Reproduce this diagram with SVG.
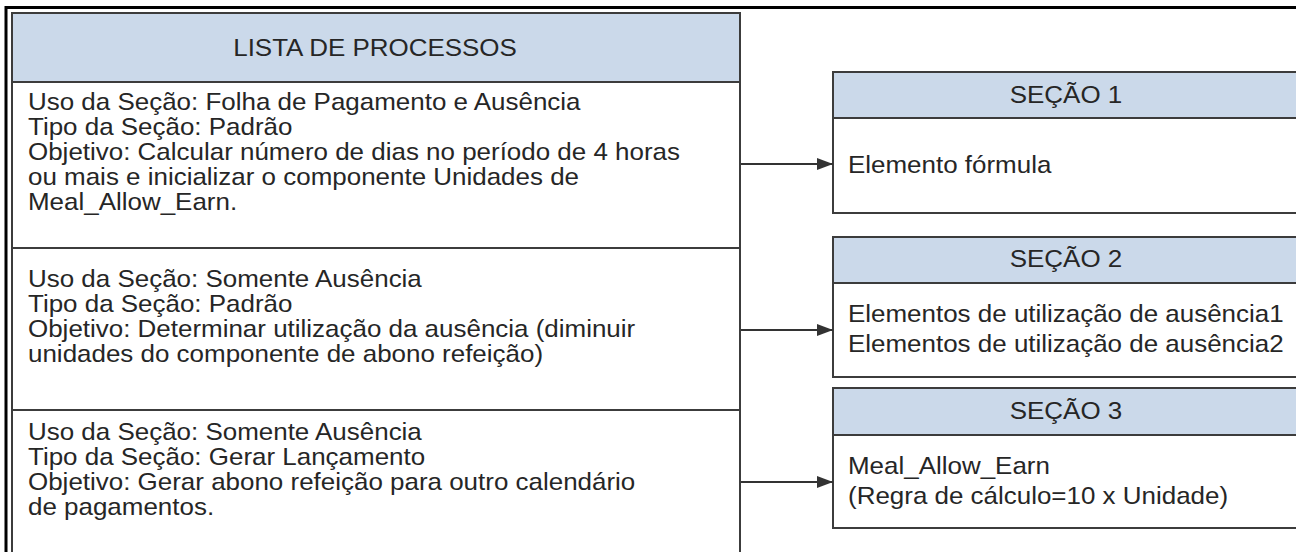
<svg xmlns="http://www.w3.org/2000/svg" width="1296" height="552" viewBox="0 0 1296 552">
  <defs>
    <style>
      .frame { fill: none; stroke: #000; stroke-width: 3; }
      .box { fill: #fff; stroke: #3c3c3c; stroke-width: 2; }
      .hdr { fill: #cbd9ea; stroke: #3c3c3c; stroke-width: 2; }
      .div { stroke: #3c3c3c; stroke-width: 2; }
      .t { font-family: "Liberation Sans", Arial, sans-serif; font-size: 23.6px; fill: #262626; }
      .c { text-anchor: middle; }
      .conn { stroke: #333; stroke-width: 2; fill: none; marker-end: url(#arr); }
    </style>
    <marker id="arr" viewBox="0 0 16 12" refX="16" refY="6" markerWidth="16" markerHeight="12" markerUnits="userSpaceOnUse" orient="auto">
      <path d="M0,0 L16,6 L0,12 z" fill="#333"/>
    </marker>
  </defs>
  <rect width="1296" height="552" fill="#fff"/>
  <path class="frame" d="M6,552 V7.5 H1296"/>

  <g id="lista">
    <rect class="box" x="12" y="13" width="728" height="540"/>
    <rect class="hdr" x="12" y="13" width="728" height="69"/>
    <text class="t c" transform="translate(375,56) scale(1.1,1)">LISTA DE PROCESSOS</text>
    <line class="div" x1="12" y1="248" x2="740" y2="248"/>
    <line class="div" x1="12" y1="410" x2="740" y2="410"/>
    <text class="t" transform="translate(28,110) scale(1.1,1)">Uso da Seção: Folha de Pagamento e Ausência</text>
    <text class="t" transform="translate(28,135) scale(1.1,1)">Tipo da Seção: Padrão</text>
    <text class="t" transform="translate(28,160) scale(1.1,1)">Objetivo: Calcular número de dias no período de 4 horas</text>
    <text class="t" transform="translate(28,185) scale(1.1,1)">ou mais e inicializar o componente Unidades de</text>
    <text class="t" transform="translate(28,210) scale(1.1,1)">Meal_Allow_Earn.</text>
    <text class="t" transform="translate(28,287) scale(1.1,1)">Uso da Seção: Somente Ausência</text>
    <text class="t" transform="translate(28,312) scale(1.1,1)">Tipo da Seção: Padrão</text>
    <text class="t" transform="translate(28,337) scale(1.1,1)">Objetivo: Determinar utilização da ausência (diminuir</text>
    <text class="t" transform="translate(28,362) scale(1.1,1)">unidades do componente de abono refeição)</text>
    <text class="t" transform="translate(28,440) scale(1.1,1)">Uso da Seção: Somente Ausência</text>
    <text class="t" transform="translate(28,465) scale(1.1,1)">Tipo da Seção: Gerar Lançamento</text>
    <text class="t" transform="translate(28,490) scale(1.1,1)">Objetivo: Gerar abono refeição para outro calendário</text>
    <text class="t" transform="translate(28,515) scale(1.1,1)">de pagamentos.</text>
  </g>

  <g id="secao1">
    <rect class="box" x="833" y="72" width="470" height="141"/>
    <rect class="hdr" x="833" y="72" width="470" height="46"/>
    <text class="t c" transform="translate(1066,103) scale(1.1,1)">SEÇÃO 1</text>
    <text class="t" transform="translate(848,173) scale(1.1,1)">Elemento fórmula</text>
  </g>

  <g id="secao2">
    <rect class="box" x="833" y="237" width="470" height="140"/>
    <rect class="hdr" x="833" y="237" width="470" height="46"/>
    <text class="t c" transform="translate(1066,267) scale(1.1,1)">SEÇÃO 2</text>
    <text class="t" transform="translate(848,322) scale(1.1,1)">Elementos de utilização de ausência1</text>
    <text class="t" transform="translate(848,352) scale(1.1,1)">Elementos de utilização de ausência2</text>
  </g>

  <g id="secao3">
    <rect class="box" x="833" y="388" width="470" height="140"/>
    <rect class="hdr" x="833" y="388" width="470" height="47"/>
    <text class="t c" transform="translate(1066,419) scale(1.1,1)">SEÇÃO 3</text>
    <text class="t" transform="translate(848,474) scale(1.1,1)">Meal_Allow_Earn</text>
    <text class="t" transform="translate(848,504) scale(1.1,1)">(Regra de cálculo=10 x Unidade)</text>
  </g>

  <g id="connectors">
    <line class="conn" x1="741" y1="164" x2="833" y2="164"/>
    <line class="conn" x1="741" y1="330" x2="833" y2="330"/>
    <line class="conn" x1="741" y1="482" x2="833" y2="482"/>
  </g>
</svg>
